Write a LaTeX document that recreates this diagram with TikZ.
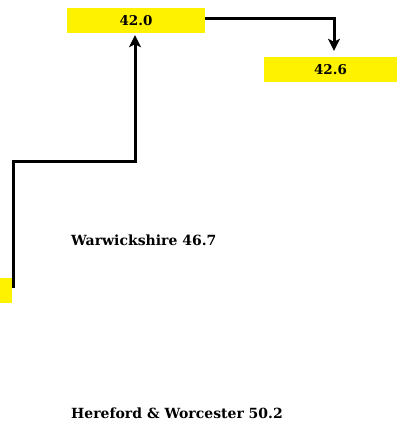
\documentclass[tikz,border=0pt]{standalone}
\usepackage{fontspec}
\setmainfont{DejaVu Serif}
\usetikzlibrary{arrows.meta}
\begin{document}
\begin{tikzpicture}[x=1pt,y=-1pt,
  ybox/.style={fill=yellow,inner sep=0pt,minimum height=25pt,font=\fontsize{13.5}{16}\selectfont\bfseries},
  lbl/.style={anchor=base west,inner sep=0pt,font=\fontsize{14}{16}\selectfont\bfseries},
  conn/.style={line width=3pt,-{Stealth[length=12pt,width=12pt,inset=3pt]}}]
\useasboundingbox (0,0) rectangle (401,444);
\node[ybox,minimum width=138pt] (a) at (136,20.5) {42.0};
\node[ybox,minimum width=133pt] (b) at (330.5,69.5) {42.6};
\node[ybox,minimum width=11.5pt] (c) at (5.75,290) {};
\coordinate (cs) at (13,288);
\node[lbl] (w) at (71,245) {Warwickshire 46.7};
\node[lbl] (h) at (71,418) {Hereford \& Worcester 50.2};
\draw[conn] (cs) |- (135,161) -- ([yshift=-2pt]a.south -| 135,0);
\draw[conn] (a.east |- 0,19) -| ([yshift=6pt]b.north -| 334,0);
\end{tikzpicture}
\end{document}
